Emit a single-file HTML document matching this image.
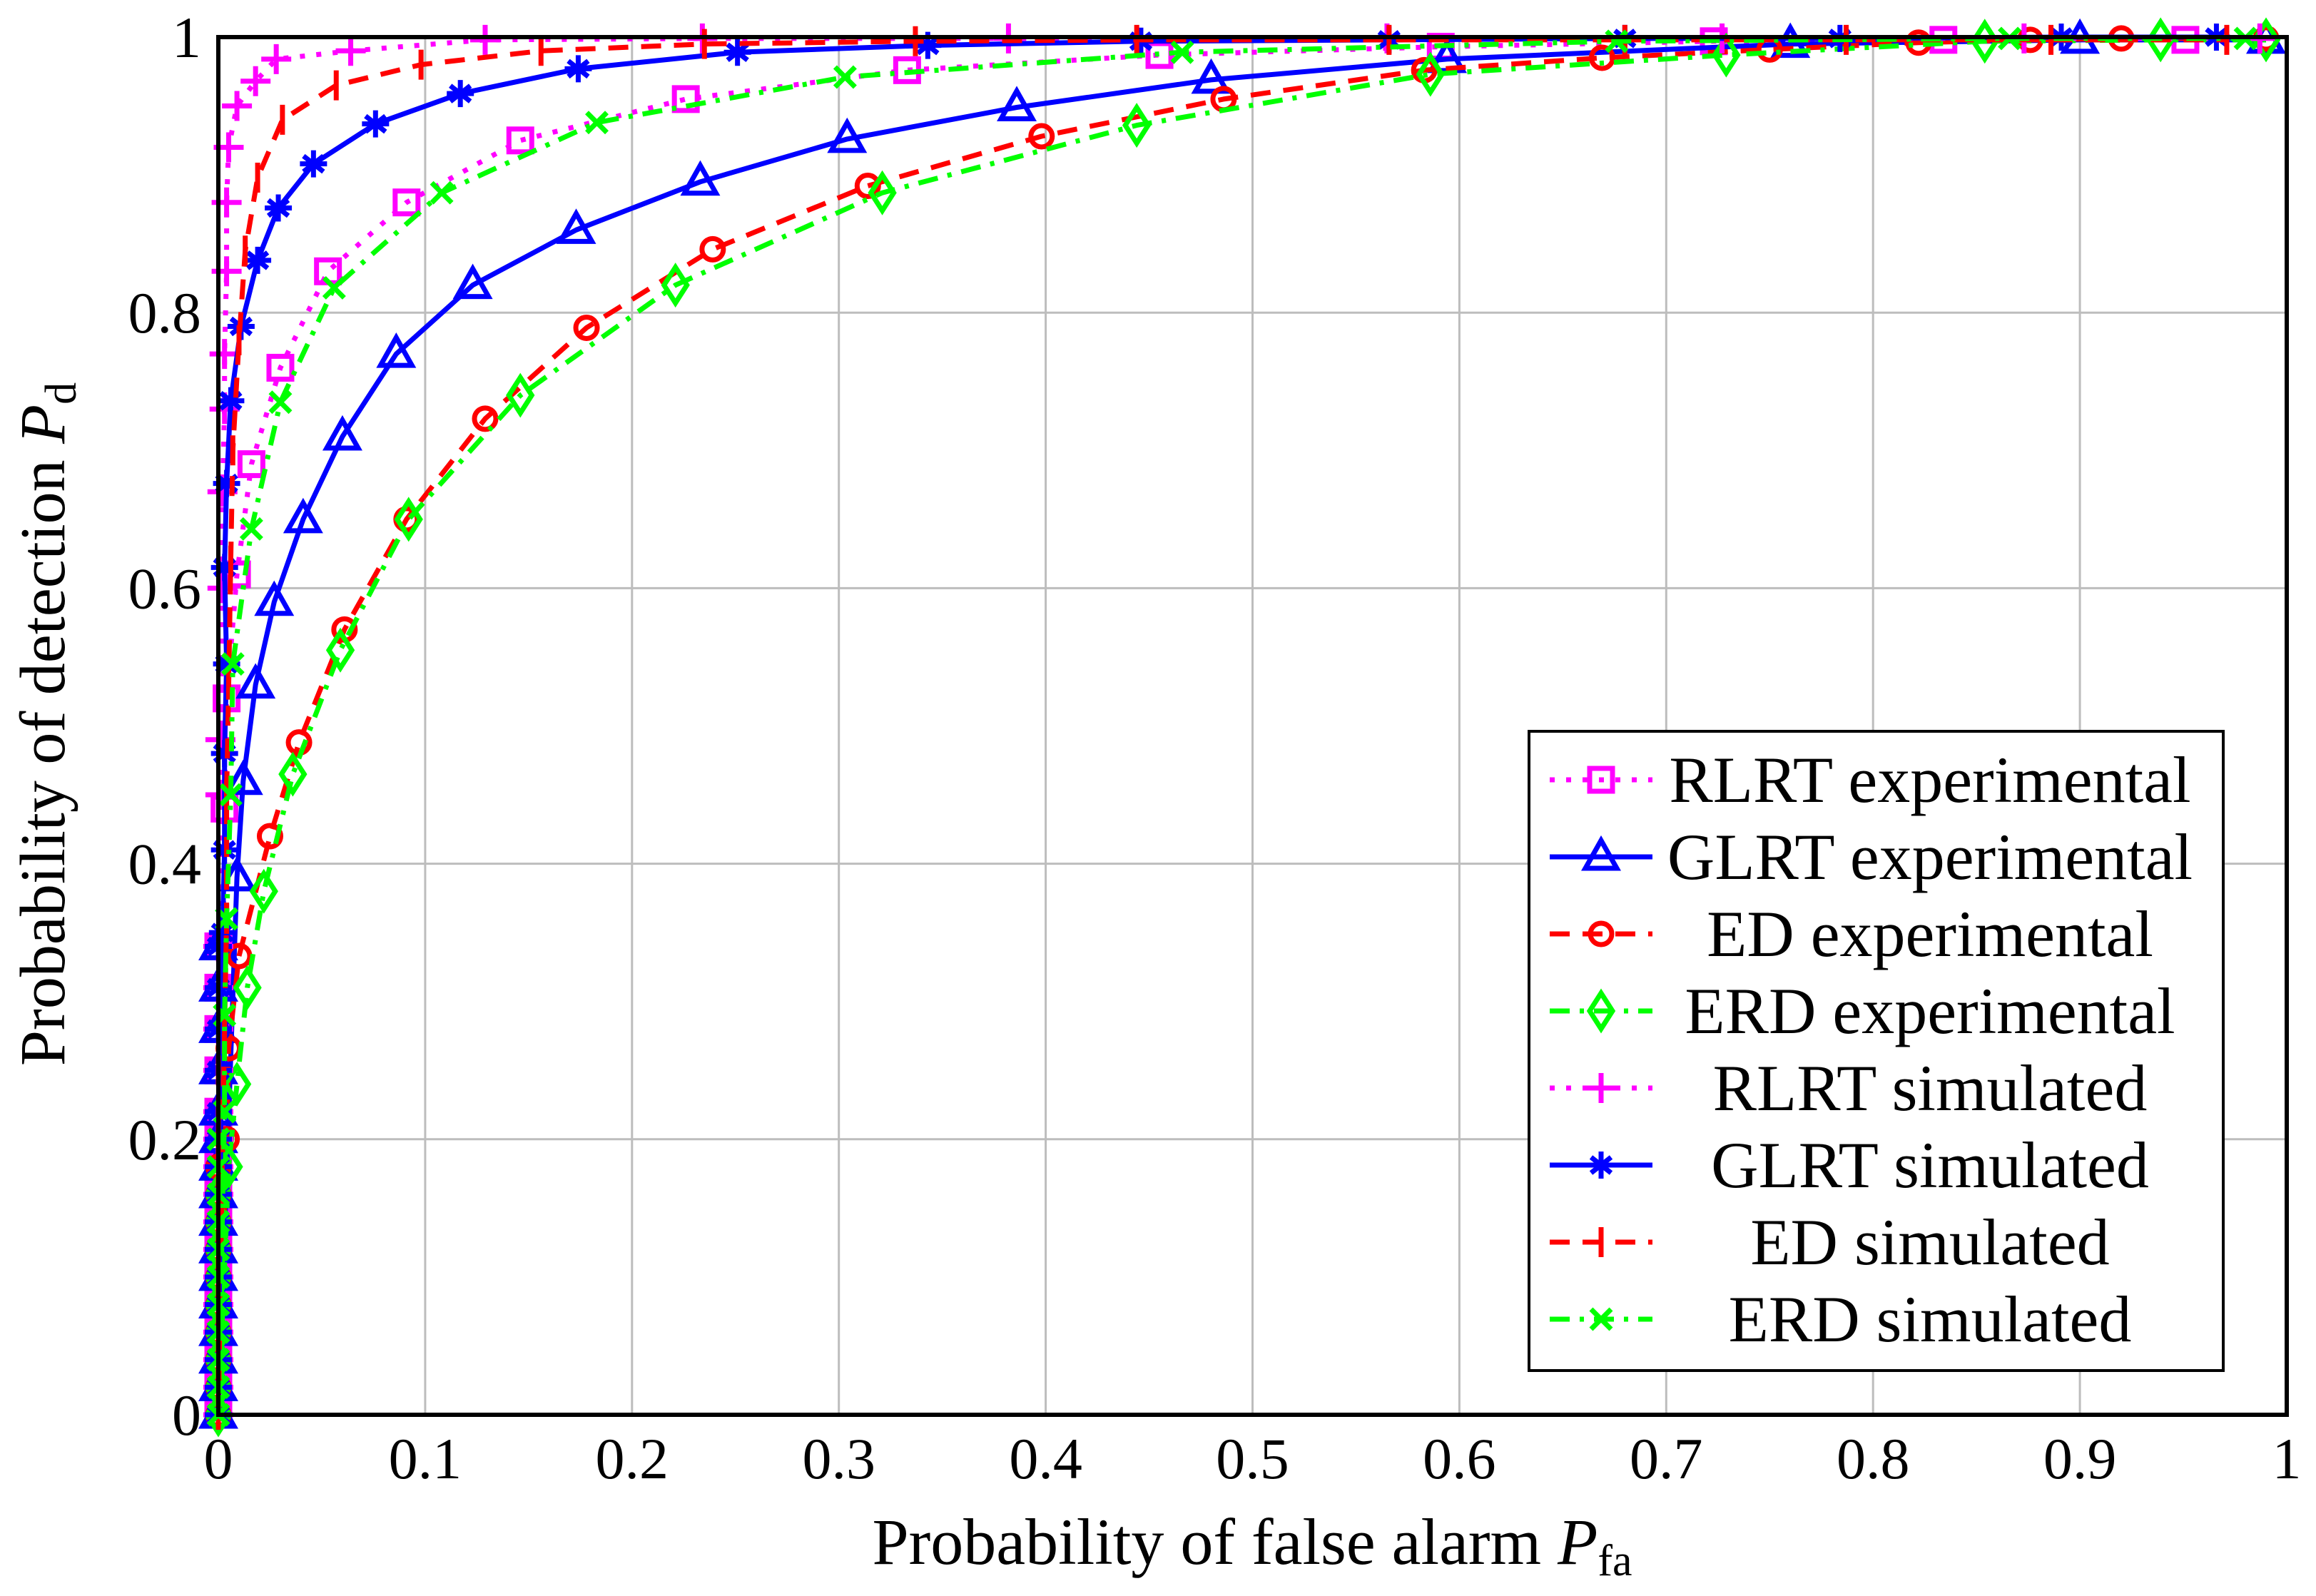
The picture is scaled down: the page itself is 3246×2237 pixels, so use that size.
<!DOCTYPE html>
<html><head><meta charset="utf-8"><style>
html,body{margin:0;padding:0;background:#fff}
svg{display:block}
text{font-family:"Liberation Serif",serif;fill:#000}
</style></head><body>
<svg id="chart" width="3246" height="2237" viewBox="0 0 3246 2237" xmlns="http://www.w3.org/2000/svg">
<g id="grid"></g>
<g id="series"></g>
<rect x="306" y="52" width="2899" height="1931" fill="none" stroke="#000" stroke-width="6"/>
<g id="ticks"></g>
<text x="1755" y="2192" font-size="92" text-anchor="middle">Probability of false alarm <tspan font-style="italic">P</tspan><tspan font-size="62" dy="16">fa</tspan></text>
<text transform="translate(90,1015) rotate(-90)" font-size="90" text-anchor="middle">Probability of detection <tspan font-style="italic">P</tspan><tspan font-size="62" dy="16">d</tspan></text>
<g id="legend"></g>
</svg>
<script>
const xTicks=[0,0.1,0.2,0.3,0.4,0.5,0.6,0.7,0.8,0.9,1];
const xTickLabels=["0","0.1","0.2","0.3","0.4","0.5","0.6","0.7","0.8","0.9","1"];
const yTicks=[0,0.2,0.4,0.6,0.8,1];
const yTickLabels=["0","0.2","0.4","0.6","0.8","1"];
const lowY=[0,0.02,0.04,0.06,0.08,0.1,0.12,0.14,0.16,0.18,0.2,0.22,0.25,0.28,0.31,0.34];

const rlrtExpX=[0.003,0.004,0.009,0.016,0.03,0.053,0.091,0.146,0.226,0.333,0.455,0.591,0.723,0.834,0.951];
const rlrtExpY=[0.44,0.52,0.61,0.69,0.76,0.83,0.88,0.925,0.955,0.976,0.987,0.993,0.997,0.998,0.998];
const glrtExpX=[0.009,0.012,0.018,0.027,0.041,0.06,0.086,0.123,0.173,0.233,0.304,0.386,0.48,0.594,0.76,0.9,0.99];
const glrtExpY=[0.39,0.46,0.53,0.59,0.65,0.71,0.77,0.82,0.86,0.895,0.926,0.949,0.969,0.984,0.995,0.998,0.998];
const edExpX=[0.004,0.005,0.01,0.025,0.039,0.061,0.091,0.129,0.178,0.239,0.314,0.398,0.486,0.583,0.669,0.75,0.822,0.876,0.92,0.99];
const edExpY=[0.2,0.266,0.333,0.42,0.488,0.57,0.65,0.723,0.789,0.846,0.892,0.928,0.955,0.976,0.985,0.991,0.996,0.998,0.999,0.999];
const erdExpX=[0.005,0.009,0.014,0.022,0.036,0.059,0.092,0.146,0.221,0.321,0.444,0.586,0.729,0.854,0.939,0.99];
const erdExpY=[0.18,0.24,0.31,0.38,0.465,0.555,0.65,0.74,0.82,0.887,0.936,0.973,0.987,0.997,0.998,0.998];
const rlrtSimX=[0.001,0.001,0.002,0.002,0.003,0.003,0.004,0.004,0.005,0.009,0.018,0.028,0.064,0.129,0.234,0.382,0.565,0.727,0.873,0.987];
const rlrtSimY=[0.45,0.49,0.6,0.67,0.73,0.77,0.83,0.88,0.92,0.95,0.968,0.984,0.99,0.998,0.999,0.999,0.999,0.999,0.999,0.999];
const glrtSimX=[0.002,0.003,0.003,0.004,0.003,0.004,0.006,0.011,0.019,0.029,0.046,0.076,0.117,0.174,0.251,0.343,0.446,0.566,0.68,0.784,0.891,0.966];
const glrtSimY=[0.35,0.41,0.48,0.545,0.615,0.676,0.736,0.79,0.838,0.876,0.908,0.937,0.959,0.977,0.989,0.994,0.997,0.998,0.999,0.999,1,1];
const edSimX=[0.003,0.004,0.004,0.005,0.006,0.007,0.01,0.013,0.019,0.031,0.057,0.098,0.156,0.235,0.337,0.444,0.566,0.68,0.787,0.886,0.971];
const edSimY=[0.28,0.36,0.45,0.53,0.62,0.7,0.78,0.845,0.898,0.94,0.965,0.98,0.99,0.995,0.997,0.998,0.998,0.998,0.998,0.998,0.998];
const erdSimX=[0.003,0.003,0.004,0.006,0.007,0.016,0.03,0.056,0.108,0.183,0.303,0.466,0.676,0.866,0.98];
const erdSimY=[0.22,0.29,0.36,0.45,0.545,0.643,0.735,0.818,0.887,0.938,0.971,0.989,0.997,0.999,0.999];

const legendLabels=["RLRT experimental","GLRT experimental","ED experimental","ERD experimental","RLRT simulated","GLRT simulated","ED simulated","ERD simulated"];

const NS="http://www.w3.org/2000/svg";
const X0=306,X1=3205,Y0=1983,Y1=52;
function sx(v){return X0+v*(X1-X0);}
function sy(v){return Y0-v*(Y0-Y1);}
function mk(tag,attrs,parent){const e=document.createElementNS(NS,tag);for(const k in attrs)e.setAttribute(k,attrs[k]);parent.appendChild(e);return e;}

const grid=document.getElementById('grid');
xTicks.forEach((v,i)=>{
  if(i>0&&i<xTicks.length-1){const l=mk('line',{x1:sx(v),x2:sx(v),y1:Y1,y2:Y0,stroke:'#bdbdbd','stroke-width':3},grid);
  
  }
});
yTicks.forEach((v,i)=>{
  if(i>0&&i<yTicks.length-1){const l=mk('line',{x1:X0,x2:X1,y1:sy(v),y2:sy(v),stroke:'#bdbdbd','stroke-width':3},grid);
  
  }
});
const ticks=document.getElementById('ticks');
xTicks.forEach((v,i)=>{const t=mk('text',{x:sx(v),y:2072,'font-size':82,'text-anchor':'middle'},ticks);t.textContent=xTickLabels[i];

});
yTicks.forEach((v,i)=>{const t=mk('text',{x:282,y:sy(v)+28,'font-size':82,'text-anchor':'end'},ticks);t.textContent=yTickLabels[i];

});

function marker(type,cx,cy,color,parent){
  const r=19,sw=7;
  const a={fill:'none',stroke:color,'stroke-width':sw};
  let e;
  if(type==='square'){e=mk('rect',Object.assign({x:cx-r+3,y:cy-r+3,width:2*r-6,height:2*r-6},a),parent);}
  else if(type==='triangle'){e=mk('polygon',Object.assign({points:`${cx},${cy-r-4} ${cx-r-3},${cy+r-3} ${cx+r+3},${cy+r-3}`},a),parent);}
  else if(type==='circle'){e=mk('circle',Object.assign({cx:cx,cy:cy,r:r-4},a),parent);}
  else if(type==='diamond'){e=mk('polygon',Object.assign({points:`${cx},${cy-r-6} ${cx+r-3},${cy} ${cx},${cy+r+6} ${cx-r+3},${cy}`},a),parent);}
  else if(type==='plus'){e=mk('path',Object.assign({d:`M${cx-r-2},${cy}H${cx+r+2}M${cx},${cy-r-2}V${cy+r+2}`},a),parent);}
  else if(type==='star'){e=mk('path',Object.assign({d:`M${cx-r},${cy}H${cx+r}M${cx},${cy-r}V${cy+r}M${cx-14},${cy-11}L${cx+14},${cy+11}M${cx-14},${cy+11}L${cx+14},${cy-11}`},a),parent);}
  else if(type==='bar'){e=mk('path',Object.assign({d:`M${cx},${cy-r-2}V${cy+r+2}`},a),parent);}
  else {e=mk('path',Object.assign({d:`M${cx-14},${cy-14}L${cx+14},${cy+14}M${cx-14},${cy+14}L${cx+14},${cy-14}`},a),parent);}
  return e;
}

const seriesDefs=[
 {name:'rlrt-experimental',xs:rlrtExpX,ys:rlrtExpY,color:'#ff00ff',dash:'7,16',m:'square'},
 {name:'glrt-experimental',xs:glrtExpX,ys:glrtExpY,color:'#0000ff',dash:'none',m:'triangle'},
 {name:'ed-experimental',xs:edExpX,ys:edExpY,color:'#ff0000',dash:'28,18',m:'circle'},
 {name:'erd-experimental',xs:erdExpX,ys:erdExpY,color:'#00ff00',dash:'28,14,6,14',m:'diamond'},
 {name:'rlrt-simulated',xs:rlrtSimX,ys:rlrtSimY,color:'#ff00ff',dash:'7,16',m:'plus'},
 {name:'glrt-simulated',xs:glrtSimX,ys:glrtSimY,color:'#0000ff',dash:'none',m:'star'},
 {name:'ed-simulated',xs:edSimX,ys:edSimY,color:'#ff0000',dash:'28,18',m:'bar'},
 {name:'erd-simulated',xs:erdSimX,ys:erdSimY,color:'#00ff00',dash:'28,14,6,14',m:'cross'}
];
const sl=document.getElementById('series');
seriesDefs.forEach(s=>{
  const g=mk('g',{},sl);
  
  
  const px=[0].concat(s.xs), py=[0].concat(s.ys);
  let d='';px.forEach((x,i)=>{d+=(i?'L':'M')+sx(x).toFixed(1)+','+sy(py[i]).toFixed(1);});
  const p=mk('path',{d:d,fill:'none',stroke:s.color,'stroke-width':7,'stroke-dasharray':s.dash,'stroke-linejoin':'round'},g);
  
  
  lowY.forEach(v=>{if(v<s.ys[0]){const m=marker(s.m,sx(0),sy(v),s.color,g);
    
    }});
  s.xs.forEach((x,i)=>{const m=marker(s.m,sx(x),sy(s.ys[i]),s.color,g);
    
    });
});

const lg=document.getElementById('legend');
const box=mk('rect',{x:2143,y:1025,width:973,height:896,fill:'#fff',stroke:'#000','stroke-width':4},lg);


legendLabels.forEach((lab,i)=>{
  const s=seriesDefs[i];const cy=1093+i*108;
  const g=mk('g',{},lg);
  
  
  mk('path',{d:`M2172,${cy}H2316`,stroke:s.color,'stroke-width':7,'stroke-dasharray':s.dash,fill:'none'},g);
  marker(s.m,2244,cy,s.color,g);
  const t=mk('text',{x:2705,y:cy+31,'font-size':92,'text-anchor':'middle'},g);t.textContent=lab;
});
</script>
</body></html>
